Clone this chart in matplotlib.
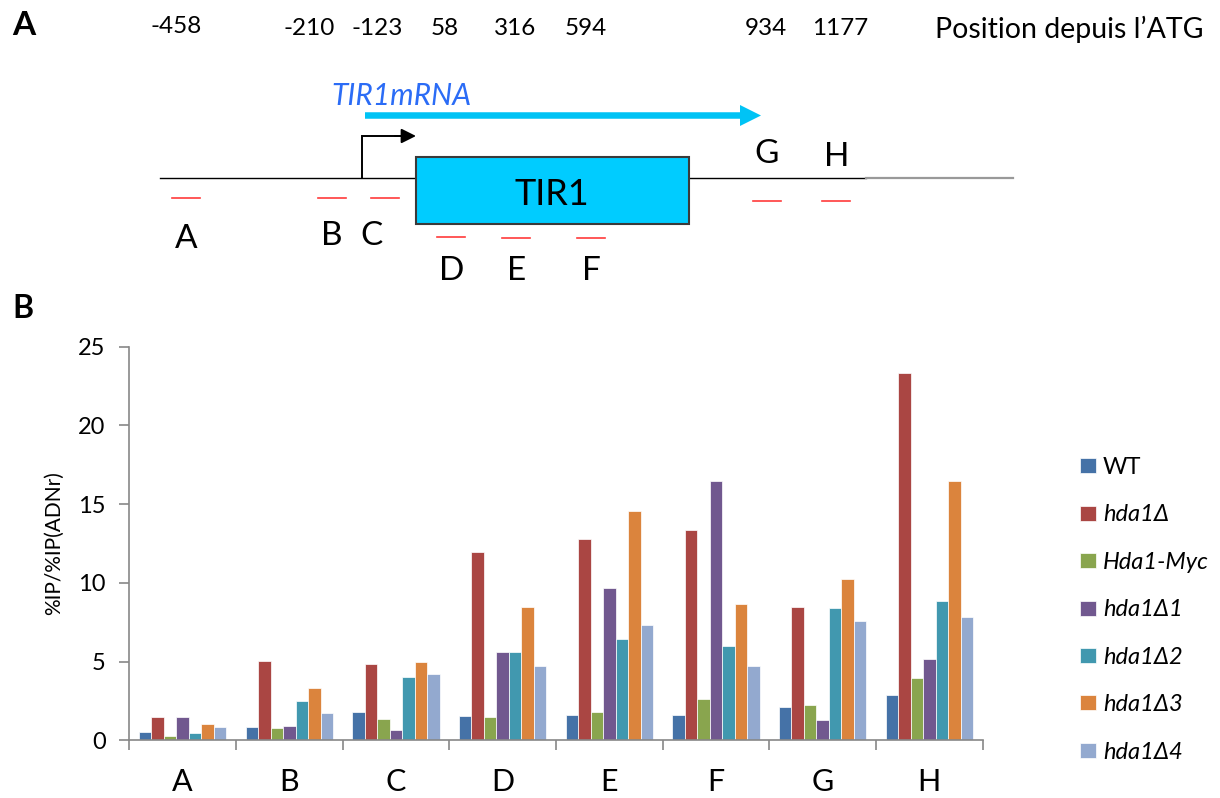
import numpy as np
import matplotlib.pyplot as plt
from matplotlib.patches import Rectangle, FancyArrow

plt.rcParams['font.family'] = ['Lato', 'DejaVu Sans']

# donnees du graphique B
regions = ['A', 'B', 'C', 'D', 'E', 'F', 'G', 'H']
souches = ['WT', 'hda1Δ', 'Hda1-Myc', 'hda1Δ1', 'hda1Δ2', 'hda1Δ3', 'hda1Δ4']
wt = [0.51, 0.84, 1.78, 1.54, 1.61, 1.63, 2.14, 2.86]
hda1 = [1.50, 5.02, 4.83, 11.96, 12.79, 13.38, 8.45, 23.3]
hda1_myc = [0.29, 0.80, 1.37, 1.50, 1.78, 2.62, 2.26, 3.94]
hda1_d1 = [1.46, 0.91, 0.64, 5.63, 9.68, 16.47, 1.27, 5.18]
hda1_d2 = [0.49, 2.52, 4.02, 5.63, 6.46, 6.01, 8.39, 8.87]
hda1_d3 = [1.02, 3.34, 4.95, 8.45, 14.55, 8.66, 10.23, 16.49]
hda1_d4 = [0.83, 1.76, 4.20, 4.70, 7.31, 4.70, 7.60, 7.81]
series = [wt, hda1, hda1_myc, hda1_d1, hda1_d2, hda1_d3, hda1_d4]
couleurs = ['#4572A7', '#AA4643', '#89A54E', '#71588F', '#4198AF', '#DB843D', '#93A9CF']

# schema A : positions depuis l'ATG et amorces
positions = ['-458', '-210', '-123', '58', '316', '594', '934', '1177']
amorces = ['A', 'B', 'C', 'D', 'E', 'F', 'G', 'H']

# mise en page du schema (pixels)
pos_x = [176, 309, 377, 445, 515, 586, 766, 840]
pos_base = [33, 35, 35, 35, 35, 35, 35, 35]
amorce_x = [186, 332, 385, 451, 516, 591, 767, 836]
amorce_y = [198, 198, 198, 237, 238, 238, 201, 201]
label_x = [186, 332, 372, 452, 517, 591, 767, 837]
label_base = [248, 245, 245, 280, 280, 280, 163, 166]

fig = plt.figure(figsize=(12.2, 7.98), dpi=100)

# ---- panneau A ----
sch = fig.add_axes([0, 0, 1, 1])
sch.set_xlim(0, 1220)
sch.set_ylim(798, 0)
sch.axis('off')

sch.text(12, 35, 'A', fontsize=24, fontweight='bold', va='baseline')
sch.text(12, 318, 'B', fontsize=23, fontweight='bold', va='baseline')

for p, x, b in zip(positions, pos_x, pos_base):
    sch.text(x, b, p, fontsize=17.5, ha='center', va='baseline')
sch.text(935, 38, 'Position depuis l\u2019ATG', fontsize=20.5, va='baseline')

# ligne genomique
sch.plot([160, 416], [177.5, 177.5], color='black', lw=1.0)
sch.plot([689, 866], [177.5, 177.5], color='black', lw=1.0)
sch.plot([866, 1013], [177.5, 177.5], color='#999999', lw=1.6)

# boite TIR1
sch.add_patch(Rectangle((416, 157), 273, 67, facecolor='#00CCFF',
                        edgecolor='#3a3a3a', lw=1.5, zorder=3))
sch.text(552, 205, 'TIR1', fontsize=26, ha='center', va='baseline', zorder=4)

# ARNm
sch.add_patch(FancyArrow(365, 115.5, 396, 0, width=6.5, head_width=21,
                         head_length=21, length_includes_head=True,
                         color='#00C3F5', lw=0))
sch.text(331, 105, 'TIR1mRNA', fontsize=21.5, style='italic', color='#2B6CF6',
         va='baseline')

# promoteur
sch.plot([362, 362, 400], [177.5, 136, 136], color='black', lw=1.4,
         solid_joinstyle='miter')
sch.annotate('', xy=(416, 136), xytext=(395, 136),
             arrowprops=dict(arrowstyle='-|>', color='black', lw=1.4,
                             mutation_scale=22, shrinkA=0, shrinkB=0))

# amorces
for nom, x, y, lx, lb in zip(amorces, amorce_x, amorce_y, label_x, label_base):
    sch.plot([x - 14, x + 14], [y, y], color='#FF3B3B', lw=1.2)
    sch.text(lx, lb, nom, fontsize=24, ha='center', va='baseline')

# ---- panneau B ----
ax = fig.add_axes([129.3 / 1220, (798 - 740.3) / 798, 853.4 / 1220, 393.6 / 798])
x = np.arange(len(regions))
w = 0.117
for i, (vals, c, lab) in enumerate(zip(series, couleurs, souches)):
    ax.bar(x + (i - 3) * w, vals, width=w, color=c, edgecolor='white',
           linewidth=0.5, label=lab)

ax.set_xlim(-0.5, len(regions) - 0.5)
ax.set_ylim(0, 25)
ax.set_yticks(np.arange(0, 26, 5))
ax.set_xticks(np.arange(-0.5, len(regions)), labels=[''] * (len(regions) + 1))
ax.set_xticks(x, labels=regions, minor=True)
ax.tick_params(axis='x', which='major', length=7, width=1.2, color='#888888')
ax.tick_params(axis='x', which='minor', length=0, pad=20, labelsize=22)
ax.tick_params(axis='y', length=7, width=1.2, color='#888888', pad=10,
               labelsize=17)
for s in ['top', 'right']:
    ax.spines[s].set_visible(False)
for s in ['left', 'bottom']:
    ax.spines[s].set_color('#888888')
    ax.spines[s].set_linewidth(1.2)
ax.set_ylabel('%IP/%IP(ADNr)', fontsize=15, labelpad=10)

leg = ax.legend(loc='upper left', bbox_to_anchor=(1080 / 1220, (798 - 457) / 798),
                bbox_transform=fig.transFigure, frameon=False, fontsize=17,
                handlelength=0.68, handleheight=0.6, handletextpad=0.3,
                labelspacing=1.12, borderpad=0, borderaxespad=0)
for t in leg.get_texts()[1:]:
    t.set_style('italic')

fig.savefig('out.png', dpi=100)
